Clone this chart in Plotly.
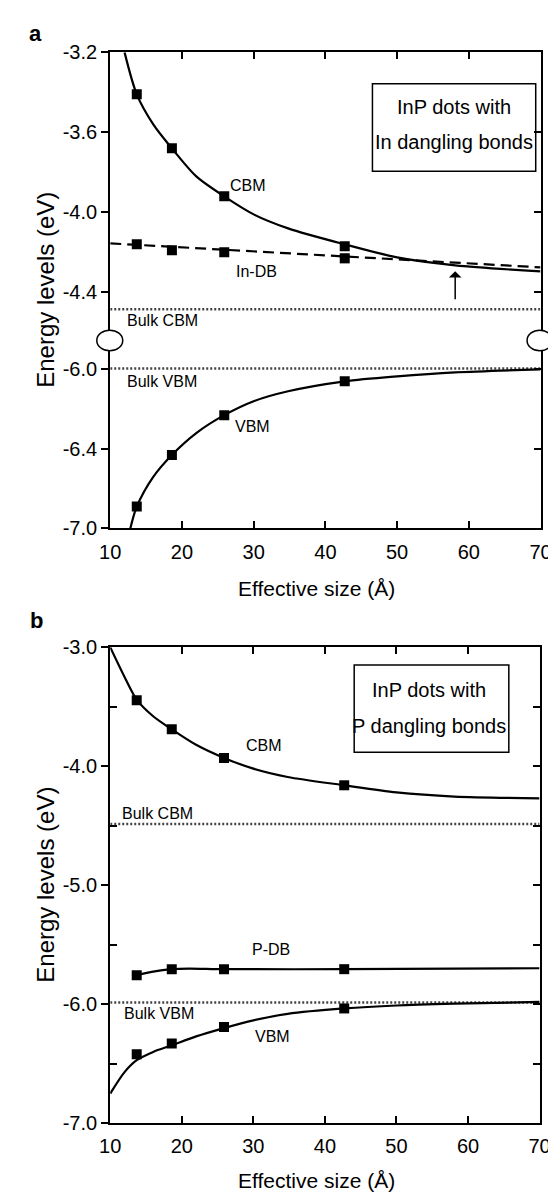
import plotly.graph_objects as go

W, H = 556, 1196

# ---------------- data ----------------
sizes = [13.7, 18.6, 25.9, 42.7]

# panel a : In dangling bonds
a_cbm = [-3.41, -3.68, -3.92, -4.17]
a_indb = [-4.16, -4.19, -4.20, -4.23]
a_vbm = [-6.69, -6.43, -6.23, -6.06]

a_cbm_fit_x = [12.0, 13.7, 16.0, 18.6, 22.0, 25.9, 30.0, 34.8, 42.7, 50.0, 58.1, 70.0]
a_cbm_fit_y = [-3.20, -3.41, -3.56, -3.68, -3.82, -3.92, -4.01, -4.08, -4.16, -4.225, -4.265, -4.295]
a_indb_fit_x = [10.0, 70.0]
a_indb_fit_y = [-4.155, -4.275]
a_vbm_fit_x = [12.8, 13.7, 16.0, 18.6, 22.0, 25.9, 30.0, 34.8, 42.7, 50.0, 58.1, 70.0]
a_vbm_fit_y = [-6.80, -6.69, -6.54, -6.43, -6.32, -6.23, -6.16, -6.11, -6.06, -6.035, -6.015, -6.00]

a_bulk_cbm = -4.485
a_bulk_vbm = -5.995

# panel b : P dangling bonds
b_cbm = [-3.445, -3.69, -3.93, -4.16]
b_pdb = [-5.755, -5.705, -5.705, -5.705]
b_vbm = [-6.42, -6.33, -6.19, -6.035]

b_cbm_fit_x = [10.0, 12.0, 13.7, 16.0, 18.6, 22.0, 25.9, 30.0, 34.8, 42.7, 50.0, 58.1, 70.0]
b_cbm_fit_y = [-3.00, -3.25, -3.44, -3.58, -3.69, -3.82, -3.93, -4.02, -4.09, -4.16, -4.22, -4.255, -4.27]
b_pdb_fit_x = [13.7, 16.0, 18.6, 21.0, 25.9, 42.7, 70.0]
b_pdb_fit_y = [-5.755, -5.725, -5.705, -5.70, -5.705, -5.705, -5.697]
b_vbm_fit_x = [10.0, 12.0, 13.7, 16.0, 18.6, 22.0, 25.9, 30.0, 34.8, 42.7, 50.0, 58.1, 70.0]
b_vbm_fit_y = [-6.75, -6.57, -6.47, -6.40, -6.345, -6.27, -6.20, -6.135, -6.08, -6.035, -6.01, -5.995, -5.98]

b_bulk_cbm = -4.485
b_bulk_vbm = -5.985

x_ticks = [10, 20, 30, 40, 50, 60, 70]
a_up_ticks = [-3.2, -3.6, -4.0, -4.4]
a_up_text = ["-3.2", "-3.6", "-4.0", "-4.4"]
a_lo_ticks = [-6.0, -6.4, -6.8]
a_lo_text = ["-6.0", "-6.4", "-7.0"]
b_major = [-3.0, -4.0, -5.0, -6.0, -7.0]
b_major_text = ["-3.0", "-4.0", "-5.0", "-6.0", "-7.0"]
b_minor = [-3.5, -4.5, -5.5, -6.5]

# ---------------- layout helpers ----------------
def fx(p):
    return p / W

def fy(p):
    return 1 - p / H

FONT = "Liberation Sans, Arial, sans-serif"
TICKC = "black"

fig = go.Figure()

def line(x, y, xa, ya, dash="solid", width=2.2, color="black", shape="spline"):
    fig.add_trace(go.Scatter(x=x, y=y, xaxis=xa, yaxis=ya, mode="lines",
                             line=dict(color=color, width=width, dash=dash, shape=shape,
                                       smoothing=0.8),
                             showlegend=False, hoverinfo="skip"))

def marks(x, y, xa, ya):
    fig.add_trace(go.Scatter(x=x, y=y, xaxis=xa, yaxis=ya, mode="markers",
                             marker=dict(symbol="square", size=10, color="black"),
                             showlegend=False))

DOT = dict(dash="2px,2px", width=2.5, color="#444", shape="linear")

# panel a upper (x, y)
line([10, 70], [a_bulk_cbm, a_bulk_cbm], "x", "y", **DOT)
line(a_cbm_fit_x, a_cbm_fit_y, "x", "y")
line(a_indb_fit_x, a_indb_fit_y, "x", "y", dash="11px,6px", shape="linear")
marks(sizes, a_cbm, "x", "y")
marks(sizes, a_indb, "x", "y")
# panel a lower (x2, y2)
line([10, 70], [a_bulk_vbm, a_bulk_vbm], "x2", "y2", **DOT)
line(a_vbm_fit_x, a_vbm_fit_y, "x2", "y2")
marks(sizes, a_vbm, "x2", "y2")
# panel b (x3, y3)
line([10, 70], [b_bulk_cbm, b_bulk_cbm], "x3", "y3", **DOT)
line([10, 70], [b_bulk_vbm, b_bulk_vbm], "x3", "y3", **DOT)
line(b_cbm_fit_x, b_cbm_fit_y, "x3", "y3")
line(b_pdb_fit_x, b_pdb_fit_y, "x3", "y3")
line(b_vbm_fit_x, b_vbm_fit_y, "x3", "y3")
marks(sizes, b_cbm, "x3", "y3")
marks(sizes, b_pdb, "x3", "y3")
marks(sizes, b_vbm, "x3", "y3")

AX = dict(showline=True, linecolor="black", linewidth=2.2, showgrid=False, zeroline=False,
          tickcolor=TICKC, tickwidth=2, ticklen=7,
          tickfont=dict(family=FONT, size=20, color="black"))

a_x_dom = [fx(95), fx(543)]
b_x_dom = [fx(95), fx(542)]
a_up_range = [-3.2 - (327 - 34) / 203.75, -3.2]
a_lo_range = [-6.8, -6.8 + (519 - 327) / 202.5]

RT = dict(showline=False, showgrid=False, zeroline=False, ticks="inside",
          showticklabels=False, ticklen=7, tickwidth=2, tickcolor=TICKC, side="right")

fig.update_layout(
    width=W, height=H, margin=dict(l=0, r=0, t=0, b=0),
    paper_bgcolor="white", plot_bgcolor="white", showlegend=False,
    xaxis=dict(AX, domain=a_x_dom, range=[10, 70], anchor="y", side="top",
               ticks="inside", tickvals=x_ticks[1:-1], showticklabels=False),
    yaxis=dict(AX, domain=[fy(327), fy(34)], range=a_up_range, anchor="x",
               ticks="outside", tickvals=a_up_ticks, ticktext=a_up_text, mirror=True),
    xaxis2=dict(AX, domain=a_x_dom, range=[10, 70], anchor="y2",
                ticks="inside", tickvals=x_ticks, ticklabelstandoff=4),
    yaxis2=dict(AX, domain=[fy(519), fy(327)], range=a_lo_range, anchor="x2",
                ticks="outside", tickvals=a_lo_ticks, ticktext=a_lo_text, mirror=True),
    xaxis3=dict(AX, domain=b_x_dom, range=[10, 70], anchor="y3",
                ticks="inside", tickvals=x_ticks, mirror="ticks", ticklabelstandoff=4),
    yaxis3=dict(AX, domain=[fy(1125), fy(640)], range=[-7.0, -3.0], anchor="x3",
                ticks="outside", tickvals=b_major, ticktext=b_major_text, mirror=True,
                minor=dict(tickvals=b_minor, ticks="inside", ticklen=7, tickwidth=2,
                           tickcolor=TICKC)),
    yaxis4=dict(RT, domain=[fy(327), fy(34)], range=a_up_range, overlaying="y",
                anchor="x", tickvals=a_up_ticks),
    yaxis5=dict(RT, domain=[fy(519), fy(327)], range=a_lo_range, overlaying="y2",
                anchor="x2", tickvals=a_lo_ticks),
    yaxis6=dict(RT, domain=[fy(1125), fy(640)], range=[-7.0, -3.0], overlaying="y3",
                anchor="x3", tickvals=b_major + b_minor),
)

# traces on the overlay axes so that they render
fig.add_trace(go.Scatter(x=[10, 70], y=[a_bulk_cbm, a_bulk_cbm], xaxis="x", yaxis="y4",
                         mode="lines", line=dict(width=0, color="rgba(0,0,0,0)"),
                         showlegend=False, hoverinfo="skip"))
fig.add_trace(go.Scatter(x=[10, 70], y=[a_bulk_vbm, a_bulk_vbm], xaxis="x2", yaxis="y5",
                         mode="lines", line=dict(width=0, color="rgba(0,0,0,0)"),
                         showlegend=False, hoverinfo="skip"))
fig.add_trace(go.Scatter(x=[10, 70], y=[b_bulk_cbm, b_bulk_cbm], xaxis="x3", yaxis="y6",
                         mode="lines", line=dict(width=0, color="rgba(0,0,0,0)"),
                         showlegend=False, hoverinfo="skip"))

ann = []
def text(t, x, y, xref, yref, size=16, xanchor="center", **kw):
    ann.append(dict(text=t, x=x, y=y, xref=xref, yref=yref, showarrow=False,
                    xanchor=xanchor, yanchor="middle",
                    font=dict(family=FONT, size=size, color="black"), **kw))

# panel letters
text("<b>a</b>", fx(17), fy(15), "paper", "paper", size=22)
text("<b>b</b>", fx(18), fy(613), "paper", "paper", size=22)

# axis titles
for cy in (276, 882):
    text("Energy levels (eV)", fx(28), fy(cy), "paper", "paper", size=24, textangle=-90)
text("Effective size (Å)", fx(310), fy(580), "paper", "paper", size=21)
text("Effective size (Å)", fx(310), fy(1183), "paper", "paper", size=21)

# panel a labels
text("CBM", 29.2, -3.867, "x", "y")
text("In-DB", 30.4, -4.294, "x", "y")
text("Bulk CBM", 12.1, -4.54, "x", "y", xanchor="left")
text("Bulk VBM", 12.1, -6.059, "x2", "y2", xanchor="left")
text("VBM", 29.8, -6.286, "x2", "y2")
text("InP dots with", fx(453), fy(90), "paper", "paper", size=20)
text("In dangling bonds", fx(453), fy(125), "paper", "paper", size=20)

# panel b labels
text("CBM", 31.5, -3.825, "x3", "y3")
text("Bulk CBM", 11.3, -4.40, "x3", "y3", xanchor="left")
text("P-DB", 32.4, -5.54, "x3", "y3")
text("Bulk VBM", 11.7, -6.076, "x3", "y3", xanchor="left")
text("VBM", 32.7, -6.274, "x3", "y3")
text("InP dots with", fx(427), fy(684), "paper", "paper", size=20)
text("P dangling bonds", fx(427), fy(720), "paper", "paper", size=20)

# arrow pointing to the CBM / In-DB crossing
ann.append(dict(x=58.1, y=-4.294, ax=58.1, ay=-4.442, xref="x", yref="y",
                axref="x", ayref="y", showarrow=True, arrowhead=1, arrowsize=1.4,
                arrowwidth=1.5, arrowcolor="black", text=""))

fig.update_layout(annotations=ann)

shapes = [
    dict(type="rect", xref="paper", yref="paper", x0=fx(368), x1=fx(538), y0=fy(155), y1=fy(66),
         line=dict(color="black", width=1.5), fillcolor="rgba(0,0,0,0)"),
    dict(type="rect", xref="paper", yref="paper", x0=fx(349), x1=fx(510), y0=fy(747), y1=fy(658),
         line=dict(color="black", width=1.5), fillcolor="rgba(0,0,0,0)"),
    dict(type="circle", xref="paper", yref="paper", x0=fx(81), x1=fx(108), y0=fy(338), y1=fy(317),
         line=dict(color="black", width=1.5), fillcolor="white", layer="above"),
    dict(type="circle", xref="paper", yref="paper", x0=fx(529), x1=fx(555.5), y0=fy(338), y1=fy(317),
         line=dict(color="black", width=1.5), fillcolor="white", layer="above"),
]
fig.update_layout(shapes=shapes)

fig.write_html("out.html")
